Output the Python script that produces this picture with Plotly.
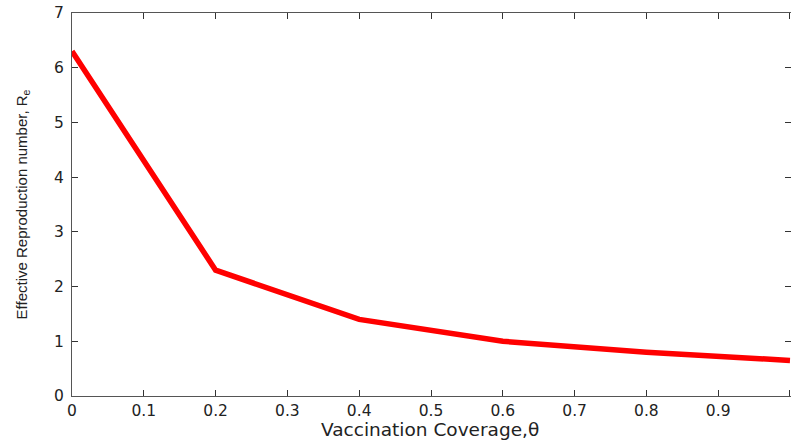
import plotly.graph_objects as go

coverage = [0.0, 0.2, 0.4, 0.6, 0.8, 1.0]
re_values = [6.3, 2.3, 1.4, 1.0, 0.8, 0.65]

x_ticks = [0, 0.1, 0.2, 0.3, 0.4, 0.5, 0.6, 0.7, 0.8, 0.9, 1]
x_tick_text = ["0", "0.1", "0.2", "0.3", "0.4", "0.5", "0.6", "0.7", "0.8", "0.9", "1"]
y_ticks = [0, 1, 2, 3, 4, 5, 6, 7]

fig = go.Figure()
fig.add_trace(go.Scatter(x=coverage, y=re_values, mode="lines",
                         line=dict(color="#ff0000", width=5.5), showlegend=False))

wide = "DejaVu Sans"
fig.update_layout(
    width=791, height=443,
    margin=dict(l=72, r=0, t=13, b=47),
    paper_bgcolor="white", plot_bgcolor="white",
    font=dict(family=wide, size=15.5, color="#222222"),
    xaxis=dict(range=[0, 1.0014], tickvals=x_ticks, ticktext=x_tick_text,
               showline=True, linecolor="#555555", linewidth=1, mirror="ticks",
               ticks="inside", ticklen=6, tickcolor="#333333", showgrid=False, zeroline=False,
               tickfont=dict(family=wide, size=15.5)),
    yaxis=dict(range=[0, 7], tickvals=y_ticks,
               showline=True, linecolor="#555555", linewidth=1, mirror="ticks",
               ticks="inside", ticklen=6, tickcolor="#333333", showgrid=False, zeroline=False,
               ticklabelstandoff=4,
               title=dict(text="Effective Reproduction number, R<sub>e</sub>",
                          font=dict(family="Liberation Sans", size=15), standoff=22),
               tickfont=dict(family=wide, size=15.5)),
    annotations=[dict(text="Vaccination Coverage,θ", xref="paper", yref="paper",
                      x=0.4986, y=-0.087, xanchor="center", yanchor="middle",
                      showarrow=False, font=dict(family=wide, size=18.5, color="#222222"))],
)
fig.write_html("out.html")
